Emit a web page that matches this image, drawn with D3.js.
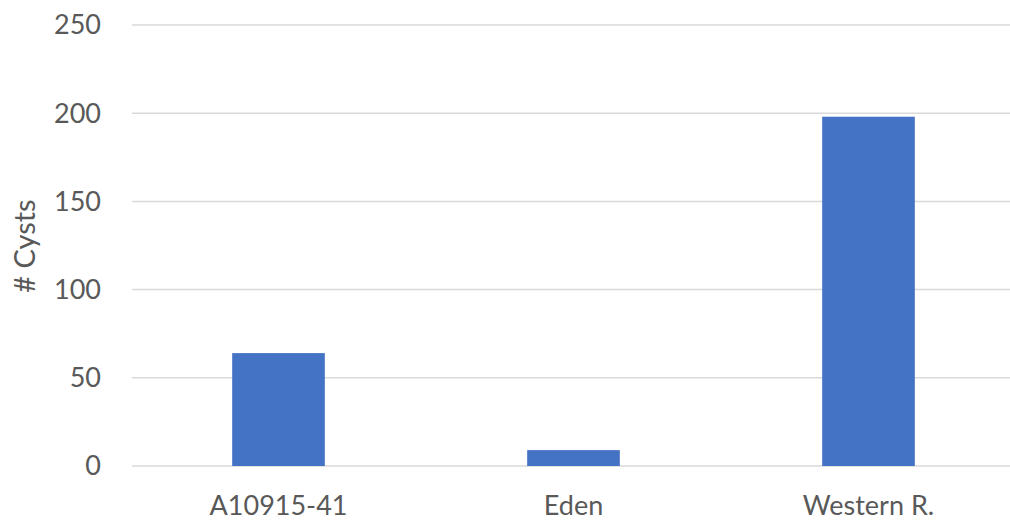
<!DOCTYPE html>
<html>
<head>
<meta charset="utf-8">
<script src="https://cdn.jsdelivr.net/npm/d3@7.9.0/dist/d3.min.js"></script>
<style>
  body { margin: 0; background: #fff; }
  text { font-family: Lato, "Open Sans", sans-serif; fill: #595959; }
</style>
</head>
<body>
<svg width="1010" height="521"></svg>
<script>
const sites = ['A10915-41', 'Eden', 'Western R.'];
const cysts = [64, 9, 198];
const yTicks = [0, 50, 100, 150, 200, 250];

const svg = d3.select('svg');

let x = d3.scaleBand()
  .domain(sites)
  .range([131, 1016])
  .paddingInner(0.686)
  .paddingOuter(0.343);

let y = d3.scaleLinear()
  .domain([0, 250])
  .range([466, 25]);

// gridlines
svg.append('g')
  .selectAll('line')
  .data(yTicks)
  .enter()
  .append('line')
  .attr('x1', 132)
  .attr('x2', 1010)
  .attr('y1', d => y(d))
  .attr('y2', d => y(d))
  .attr('stroke', '#d9d9d9')
  .attr('stroke-width', 1.5);

// bars
svg.append('g')
  .selectAll('rect')
  .data(sites)
  .enter()
  .append('rect')
  .attr('x', d => x(d))
  .attr('width', x.bandwidth())
  .attr('y', (d, i) => y(cysts[i]))
  .attr('height', (d, i) => y(0) - y(cysts[i]))
  .attr('fill', '#4472c4');

// y tick labels
svg.append('g')
  .selectAll('text')
  .data(yTicks)
  .enter()
  .append('text')
  .attr('x', 101)
  .attr('y', d => y(d))
  .attr('dy', '0.35em')
  .attr('text-anchor', 'end')
  .style('font-size', '27px')
  .text(d => d);

// x labels
svg.append('g')
  .selectAll('text')
  .data(sites)
  .enter()
  .append('text')
  .attr('x', d => x(d) + x.bandwidth() / 2)
  .attr('y', 506)
  .attr('dy', '0.35em')
  .attr('text-anchor', 'middle')
  .style('font-size', '27px')
  .text(d => d);

// axis title
svg.append('text')
  .attr('transform', 'translate(25,246) rotate(-90)')
  .attr('dy', '0.35em')
  .attr('text-anchor', 'middle')
  .style('font-size', '29px')
  .text('# Cysts');
</script>
</body>
</html>
